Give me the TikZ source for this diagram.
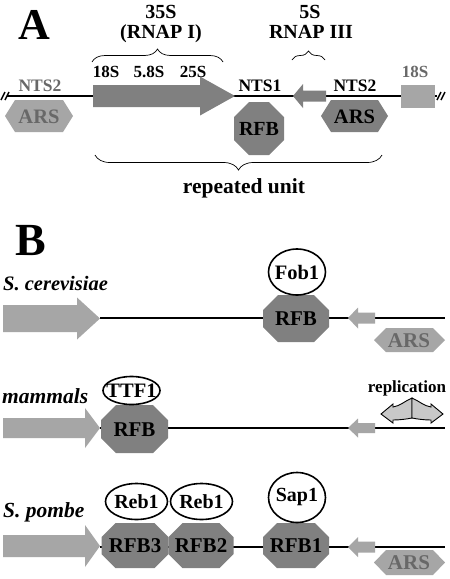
\documentclass[tikz,border=0pt]{standalone}
\usepackage{fontspec}
\setmainfont{Liberation Serif}
\usetikzlibrary{decorations.pathreplacing}
\definecolor{dk}{HTML}{808080}
\definecolor{lt}{HTML}{A6A6A6}
\definecolor{txg}{HTML}{686868}
\definecolor{repl}{HTML}{C8C8C8}
\newcommand\fs[1]{\fontsize{#1}{#1}\selectfont}
% octagon: cx cy w h chamfer colour
\newcommand\octfill[6]{\fill[#6] ({#1-#3/2+#5},{#2-#4/2}) -- ({#1+#3/2-#5},{#2-#4/2}) -- ({#1+#3/2},{#2-#4/2+#5}) -- ({#1+#3/2},{#2+#4/2-#5}) -- ({#1+#3/2-#5},{#2+#4/2}) -- ({#1-#3/2+#5},{#2+#4/2}) -- ({#1-#3/2},{#2+#4/2-#5}) -- ({#1-#3/2},{#2-#4/2+#5}) -- cycle;}
% hexagon: cx cy w h inset colour
\newcommand\hexfill[6]{\fill[#6] ({#1-#3/2},#2) -- ({#1-#3/2+#5},{#2-#4/2}) -- ({#1+#3/2-#5},{#2-#4/2}) -- ({#1+#3/2},#2) -- ({#1+#3/2-#5},{#2+#4/2}) -- ({#1-#3/2+#5},{#2+#4/2}) -- cycle;}
% block arrow: x0 xhead xtip cy bodyhalf headhalf colour
\newcommand\blockarrow[7]{\fill[#7] (#1,{#4-#5}) -- (#2,{#4-#5}) -- (#2,{#4-#6}) -- (#3,#4) -- (#2,{#4+#6}) -- (#2,{#4+#5}) -- (#1,{#4+#5}) -- cycle;}
\tikzset{
  t/.style={font=\bfseries\fs{#1}, inner sep=0pt, anchor=base},
  ti/.style={font=\bfseries\itshape\fs{#1}, inner sep=0pt, anchor=base west},
  ctr/.style={font=\bfseries\fs{#1}, inner sep=0pt},
  dna/.style={line width=2.8pt},
  brk/.style={line width=1.4pt},
  oval/.style={line width=1.6pt, fill=white},
  bracestyle/.style={decorate, decoration={brace, amplitude=#1}, line width=0.7pt},
}
\begin{document}
\begin{tikzpicture}[x=1pt,y=-1pt]
\useasboundingbox (0,0) rectangle (450,579);
\fill[white] (0,0) rectangle (450,579);

% ================= Panel A =================
\node[t=44] (A) at (34,39) {A};
\node[t=20] (s35) at (161,18) {35S};
\node[t=20] (rnap1) at (161,38) {(RNAP I)};
\node[t=20] (s5) at (310,18) {5S};
\node[t=20] (rnap3) at (311,38) {RNAP III};
\coordinate (b1l) at (92,62); \coordinate (b1r) at (223,62);
\draw[bracestyle=13pt] (b1l) -- (b1r);
\coordinate (b2l) at (292,60); \coordinate (b2r) at (325,60);
\draw[bracestyle=9pt] (b2l) -- (b2r);

\node[t=17] (r18) at (106,77) {18S};
\node[t=17] (r58) at (149,77) {5.8S};
\node[t=17] (r25) at (193,77) {25S};
\node[t=17.5, text=txg] (nts2a) at (40,91) {NTS2};
\node[t=17.5] (nts1) at (260,91) {NTS1};
\node[t=17.5] (nts2b) at (355,91) {NTS2};
\node[t=17, text=txg] (r18b) at (415,77) {18S};

\coordinate (LA) at (7,96); \coordinate (RA) at (437,96);
\draw[dna] (LA) -- (RA);
\draw[brk] (1,100) -- (5,92) (5,100) -- (9,92);
\draw[brk] (437,100) -- (441,92) (441,100) -- (445,92);

\blockarrow{93}{200}{235}{96}{11}{19.5}{dk}
\blockarrow{326}{303}{293}{96}{5.5}{12}{dk}
\fill[lt] (401,85) rectangle (435,108);

\hexfill{39}{116}{68}{32}{10}{lt}
\node[ctr=20.5, text=txg] (arsA1) at (39,117) {ARS};
\octfill{259}{128.5}{50}{53}{15}{dk}
\node[ctr=20] (rfbA) at (259,129) {RFB};
\hexfill{354.5}{116}{67}{32}{10}{dk}
\node[ctr=20.5] (arsA2) at (354.5,117) {ARS};

\coordinate (b3r) at (382,155); \coordinate (b3l) at (95,155);
\draw[bracestyle=15pt] (b3r) -- (b3l);
\node[t=21.5] (rep) at (244,193) {repeated unit};

% ================= Panel B: S. cerevisiae =================
\node[t=46] (B) at (31,255) {B};
\node[ti=20.5] (scer) at (3,290) {S. cerevisiae};
\coordinate (L1) at (100,318); \coordinate (R1) at (445,318);
\draw[dna] (L1) -- (R1);
\blockarrow{3}{77}{100}{318.5}{13.5}{21}{lt}
\octfill{296}{318.5}{66}{47}{15}{dk}
\node[ctr=21] (rfb1) at (296,319) {RFB};
\draw[oval] (297,272) ellipse [x radius=28.5, y radius=23];
\node[ctr=20.5] (fob) at (297,272) {Fob1};
\blockarrow{375}{358}{348}{318}{5.5}{10.5}{lt}
\hexfill{409.5}{340}{71}{24}{12}{lt}
\node[ctr=21, text=txg] (arsB1) at (409,341) {ARS};

% ================= mammals =================
\node[ti=21.5] (mam) at (2,403) {mammals};
\coordinate (L2) at (100,428); \coordinate (R2) at (445,428);
\draw[dna] (L2) -- (R2);
\blockarrow{3}{85}{100}{428}{10}{20}{lt}
\octfill{134.5}{429}{67}{48}{15}{dk}
\node[ctr=21] (rfb2) at (134.5,430) {RFB};
\draw[oval] (131.5,390.5) ellipse [x radius=28.5, y radius=14];
\node[ctr=20.5] (ttf) at (131.5,391) {TTF1};
\blockarrow{375}{358}{348}{428}{5}{9.5}{lt}
\node[t=17] (repl) at (407,392) {replication};
\draw[fill=repl, line width=0.9pt] (412,398) .. controls (405,401) and (400,406) .. (393,407) -- (393,404) -- (381,414) -- (393,423) -- (393,420) .. controls (400,420) and (407,419) .. (412,418) -- cycle;
\draw[fill=repl, line width=0.9pt] (412,398) .. controls (419,401) and (424,406) .. (431,407) -- (431,404) -- (443,414) -- (431,423) -- (431,420) .. controls (424,420) and (417,419) .. (412,418) -- cycle;

% ================= S. pombe =================
\node[ti=21.5] (spo) at (3,517) {S. pombe};
\coordinate (L3) at (100,547); \coordinate (R3) at (445,547);
\draw[dna] (L3) -- (R3);
\blockarrow{3}{85}{100}{546}{11}{21}{lt}
\octfill{135}{545.5}{67}{45}{14}{dk}
\node[ctr=21] (rfb3) at (135,546) {RFB3};
\octfill{201}{545.5}{65}{45}{14}{dk}
\node[ctr=21] (rfb2b) at (201,546) {RFB2};
\octfill{296}{545.5}{66}{45}{14}{dk}
\node[ctr=21] (rfb1b) at (296,546) {RFB1};
\draw[oval] (136.5,501.5) ellipse [x radius=31, y radius=18];
\node[ctr=20] (reb1) at (136.5,502) {Reb1};
\draw[oval] (201.5,501.5) ellipse [x radius=31, y radius=18];
\node[ctr=20] (reb2) at (201.5,502) {Reb1};
\draw[oval] (297,497.5) ellipse [x radius=28.5, y radius=25];
\node[ctr=20] (sap) at (297,497) {Sap1};
\blockarrow{375}{358}{348}{547}{5.5}{10}{lt}
\hexfill{409.5}{562.5}{71}{25}{12}{lt}
\node[ctr=21, text=txg] (arsB3) at (409,563) {ARS};
\end{tikzpicture}
\end{document}
